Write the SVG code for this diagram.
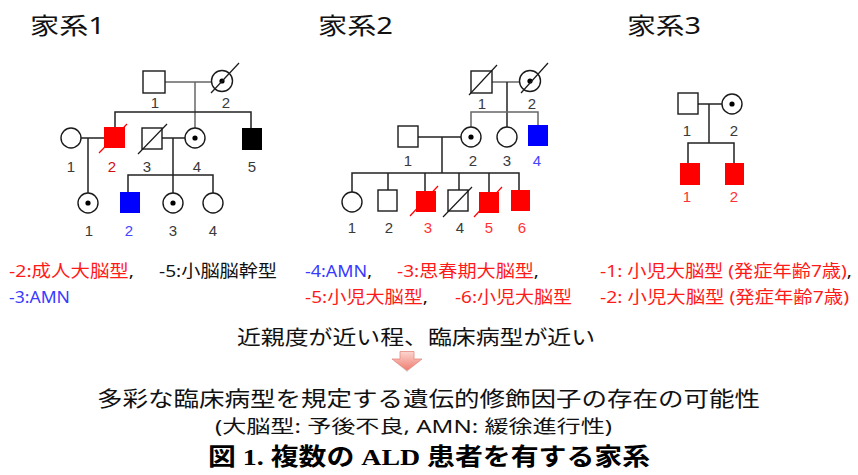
<svg xmlns="http://www.w3.org/2000/svg" width="858" height="475" viewBox="0 0 858 475">
<defs>
<style>
.sh{fill:#fff;stroke:#1a1a1a;stroke-width:1.4}
.red{fill:#ff0000;stroke:none}
.blue{fill:#0000ff;stroke:none}
.blk{fill:#000;stroke:none}
.dot{fill:#000}
.sl{stroke:#1a1a1a;stroke-width:1.2}
.rsl{stroke:#ff0000;stroke-width:1.2}
.ln{stroke:#222;stroke-width:1.5;fill:none}
.gl{stroke:#666;stroke-width:1.5;fill:none}
.lb{font-family:"Liberation Sans",Arial,sans-serif;font-size:15px;fill:#3a3a3a;text-anchor:middle}
.lr{fill:#ff3333}
.lr1{fill:#d01010}
.lbl{fill:#4444ff}
.ttl{font-family:"Noto Sans","Noto Sans CJK JP",sans-serif;font-size:23px;fill:#111}
.lg{font-family:"Noto Sans","Noto Sans CJK JP",sans-serif;font-size:17px}
.tr{fill:#ff1a1a}
.tb{fill:#3a3aff}
.tk{fill:#111}
.bt{font-family:"Noto Sans","Noto Sans CJK JP",sans-serif;fill:#111}
.cap{font-family:"Liberation Serif","Noto Sans CJK JP",serif;font-weight:bold;font-size:24px;fill:#000}
</style>
<linearGradient id="ag" x1="0" y1="0" x2="0" y2="1">
<stop offset="0" stop-color="#fbd6cf"/>
<stop offset="1" stop-color="#f07c70"/>
</linearGradient>
</defs>

<!-- titles -->
<text class="ttl" x="30" y="34" textLength="75" lengthAdjust="spacingAndGlyphs">家系1</text>
<text class="ttl" x="318" y="34" textLength="75" lengthAdjust="spacingAndGlyphs">家系2</text>
<text class="ttl" x="627" y="34" textLength="74" lengthAdjust="spacingAndGlyphs">家系3</text>

<!-- connectors -->
<g id="connectors">
  <!-- family 1 -->
  <line class="gl" x1="165" y1="82" x2="212" y2="82"/>
  <line class="gl" x1="195" y1="82" x2="195" y2="128"/>
  <polyline class="ln" points="115,127 115,112 251,112 251,128"/>
  <line class="ln" x1="81" y1="138" x2="104" y2="138"/>
  <line class="ln" x1="88" y1="138" x2="88" y2="193"/>
  <line class="ln" x1="162" y1="138" x2="185" y2="138"/>
  <line class="ln" x1="173" y1="138" x2="173" y2="193"/>
  <polyline class="ln" points="128,192 128,175 213,175 213,193"/>
  <!-- family 2 -->
  <line class="gl" x1="492" y1="82" x2="520" y2="82"/>
  <line class="ln" x1="507" y1="82" x2="507" y2="127"/>
  <polyline class="gl" points="471,127 471,112 538,112 538,125"/>
  <line class="ln" x1="418" y1="137" x2="461" y2="137"/>
  <line class="ln" x1="442" y1="137" x2="442" y2="173"/>
  <polyline class="ln" points="352,192 352,173 519,173 519,190"/>
  <line class="ln" x1="388" y1="173" x2="388" y2="190"/>
  <line class="ln" x1="425" y1="173" x2="425" y2="191"/>
  <line class="ln" x1="459" y1="173" x2="459" y2="190"/>
  <line class="ln" x1="489" y1="173" x2="489" y2="192"/>
  <!-- family 3 -->
  <line class="ln" x1="697" y1="104" x2="722" y2="104"/>
  <line class="ln" x1="709" y1="104" x2="709" y2="143"/>
  <polyline class="ln" points="688,163 688,143 734,143 734,163"/>
</g>

<!-- family 1 nodes -->
<g id="f1-I-1"><rect class="sh" x="143" y="71" width="22" height="22"/><text class="lb" x="155" y="107.5">1</text></g>
<g id="f1-I-2"><circle class="sh" cx="222" cy="81" r="10.5"/><circle class="dot" cx="222" cy="81" r="2.6"/><line class="sl" x1="211" y1="93" x2="239" y2="63"/><text class="lb" x="226" y="107.5">2</text></g>
<g id="f1-II-1"><circle class="sh" cx="71" cy="138" r="10"/><text class="lb" x="71" y="171.5">1</text></g>
<g id="f1-II-2"><line class="rsl" x1="99" y1="153" x2="127" y2="124"/><rect class="red" x="104" y="127" width="21" height="21"/><text class="lb lr1" x="112" y="171.5">2</text></g>
<g id="f1-II-3"><rect class="sh" x="142" y="128" width="20" height="21"/><line class="sl" x1="138" y1="154" x2="167" y2="124"/><text class="lb" x="147" y="171.5">3</text></g>
<g id="f1-II-4"><circle class="sh" cx="195" cy="138" r="10"/><circle class="dot" cx="195" cy="138" r="2.6"/><text class="lb" x="197" y="171.5">4</text></g>
<g id="f1-II-5"><rect class="blk" x="242" y="128" width="20" height="22"/><text class="lb" x="252" y="171.5">5</text></g>
<g id="f1-III-1"><circle class="sh" cx="88" cy="203" r="10"/><circle class="dot" cx="88" cy="203" r="2.6"/><text class="lb" x="89" y="235.5">1</text></g>
<g id="f1-III-2"><rect class="blue" x="120" y="192" width="20" height="21"/><text class="lb lbl" x="129" y="235.5">2</text></g>
<g id="f1-III-3"><circle class="sh" cx="173" cy="203" r="10"/><circle class="dot" cx="173" cy="203" r="2.6"/><text class="lb" x="173" y="235.5">3</text></g>
<g id="f1-III-4"><circle class="sh" cx="213" cy="203" r="10"/><text class="lb" x="213" y="235.5">4</text></g>

<!-- family 2 nodes -->
<g id="f2-I-1"><rect class="sh" x="471" y="71" width="21" height="22"/><line class="sl" x1="469" y1="95" x2="497" y2="65"/><text class="lb" x="482" y="108.5">1</text></g>
<g id="f2-I-2"><circle class="sh" cx="530" cy="81" r="10.5"/><circle class="dot" cx="530" cy="81" r="2.6"/><line class="sl" x1="521" y1="93" x2="548" y2="63"/><text class="lb" x="532" y="108.5">2</text></g>
<g id="f2-II-1"><rect class="sh" x="398" y="126" width="20" height="21"/><text class="lb" x="408" y="165.5">1</text></g>
<g id="f2-II-2"><circle class="sh" cx="471" cy="137" r="10"/><circle class="dot" cx="471" cy="137" r="2.6"/><text class="lb" x="473" y="165.5">2</text></g>
<g id="f2-II-3"><circle class="sh" cx="507" cy="137" r="10"/><text class="lb" x="507" y="165.5">3</text></g>
<g id="f2-II-4"><rect class="blue" x="528" y="125" width="20" height="21"/><text class="lb lbl" x="537" y="165.5">4</text></g>
<g id="f2-III-1"><circle class="sh" cx="352" cy="202" r="10"/><text class="lb" x="352" y="232.5">1</text></g>
<g id="f2-III-2"><rect class="sh" x="378" y="190" width="19" height="21"/><text class="lb" x="389" y="232.5">2</text></g>
<g id="f2-III-3"><line class="rsl" x1="410" y1="216" x2="438" y2="186"/><rect class="red" x="416" y="191" width="20" height="21"/><text class="lb lr" x="428" y="232.5">3</text></g>
<g id="f2-III-4"><rect class="sh" x="448" y="190" width="20" height="21"/><line class="sl" x1="443" y1="217" x2="472" y2="187"/><text class="lb" x="460" y="232.5">4</text></g>
<g id="f2-III-5"><line class="rsl" x1="474" y1="217" x2="502" y2="187"/><rect class="red" x="479" y="192" width="20" height="21"/><text class="lb lr" x="489" y="232.5">5</text></g>
<g id="f2-III-6"><rect class="red" x="511" y="190" width="19" height="21"/><text class="lb lr" x="522" y="232.5">6</text></g>

<!-- family 3 nodes -->
<g id="f3-I-1"><rect class="sh" x="678" y="93" width="20" height="21"/><text class="lb" x="687" y="135.5">1</text></g>
<g id="f3-I-2"><circle class="sh" cx="732" cy="104" r="10"/><circle class="dot" cx="732" cy="104" r="2.6"/><text class="lb" x="734" y="135.5">2</text></g>
<g id="f3-II-1"><rect class="red" x="680" y="163" width="20" height="22"/><text class="lb lr" x="687" y="202">1</text></g>
<g id="f3-II-2"><rect class="red" x="725" y="163" width="19" height="22"/><text class="lb lr" x="734" y="202">2</text></g>

<!-- legends -->
<text class="lg" x="9" y="277" textLength="125" lengthAdjust="spacingAndGlyphs"><tspan class="tr">-2:成人大脳型</tspan><tspan class="tk">,</tspan></text>
<text class="lg tk" x="159" y="277" textLength="118" lengthAdjust="spacingAndGlyphs">-5:小脳脳幹型</text>
<text class="lg" x="9" y="303" textLength="61" lengthAdjust="spacingAndGlyphs"><tspan class="tb">-3:AMN</tspan></text>

<text class="lg" x="305" y="277" textLength="67" lengthAdjust="spacingAndGlyphs"><tspan class="tb">-4:AMN</tspan><tspan class="tk">,</tspan></text>
<text class="lg" x="397" y="277" textLength="142" lengthAdjust="spacingAndGlyphs"><tspan class="tr">-3:思春期大脳型</tspan><tspan class="tk">,</tspan></text>
<text class="lg" x="305" y="303" textLength="123" lengthAdjust="spacingAndGlyphs"><tspan class="tr">-5:小児大脳型</tspan><tspan class="tk">,</tspan></text>
<text class="lg tr" x="455" y="303" textLength="117" lengthAdjust="spacingAndGlyphs">-6:小児大脳型</text>

<text class="lg" x="600" y="277" textLength="252" lengthAdjust="spacingAndGlyphs"><tspan class="tr">-1: 小児大脳型 (発症年齢7歳)</tspan><tspan class="tk">,</tspan></text>
<text class="lg tr" x="600" y="303" textLength="249" lengthAdjust="spacingAndGlyphs">-2: 小児大脳型 (発症年齢7歳)</text>

<!-- bottom -->
<text class="bt" x="237" y="345" font-size="20" textLength="358" lengthAdjust="spacingAndGlyphs">近親度が近い程、臨床病型が近い</text>
<polygon points="394,361 400,361 400,353 414,353 414,361 420,361 407,372" fill="#ccc" opacity="0.6"/>
<polygon points="392,359 400,359 400,351.5 414,351.5 414,359 422,359 407,370.5" fill="url(#ag)" stroke="#e58a80" stroke-width="0.8"/>
<text class="bt" x="97" y="406" font-size="21" textLength="663" lengthAdjust="spacingAndGlyphs">多彩な臨床病型を規定する遺伝的修飾因子の存在の可能性</text>
<text class="bt" x="215" y="433" font-size="18" textLength="397" lengthAdjust="spacingAndGlyphs">(大脳型: 予後不良, AMN: 緩徐進行性)</text>
<text class="cap" x="208" y="465" textLength="442" lengthAdjust="spacingAndGlyphs">図 1. 複数の ALD 患者を有する家系</text>
</svg>
